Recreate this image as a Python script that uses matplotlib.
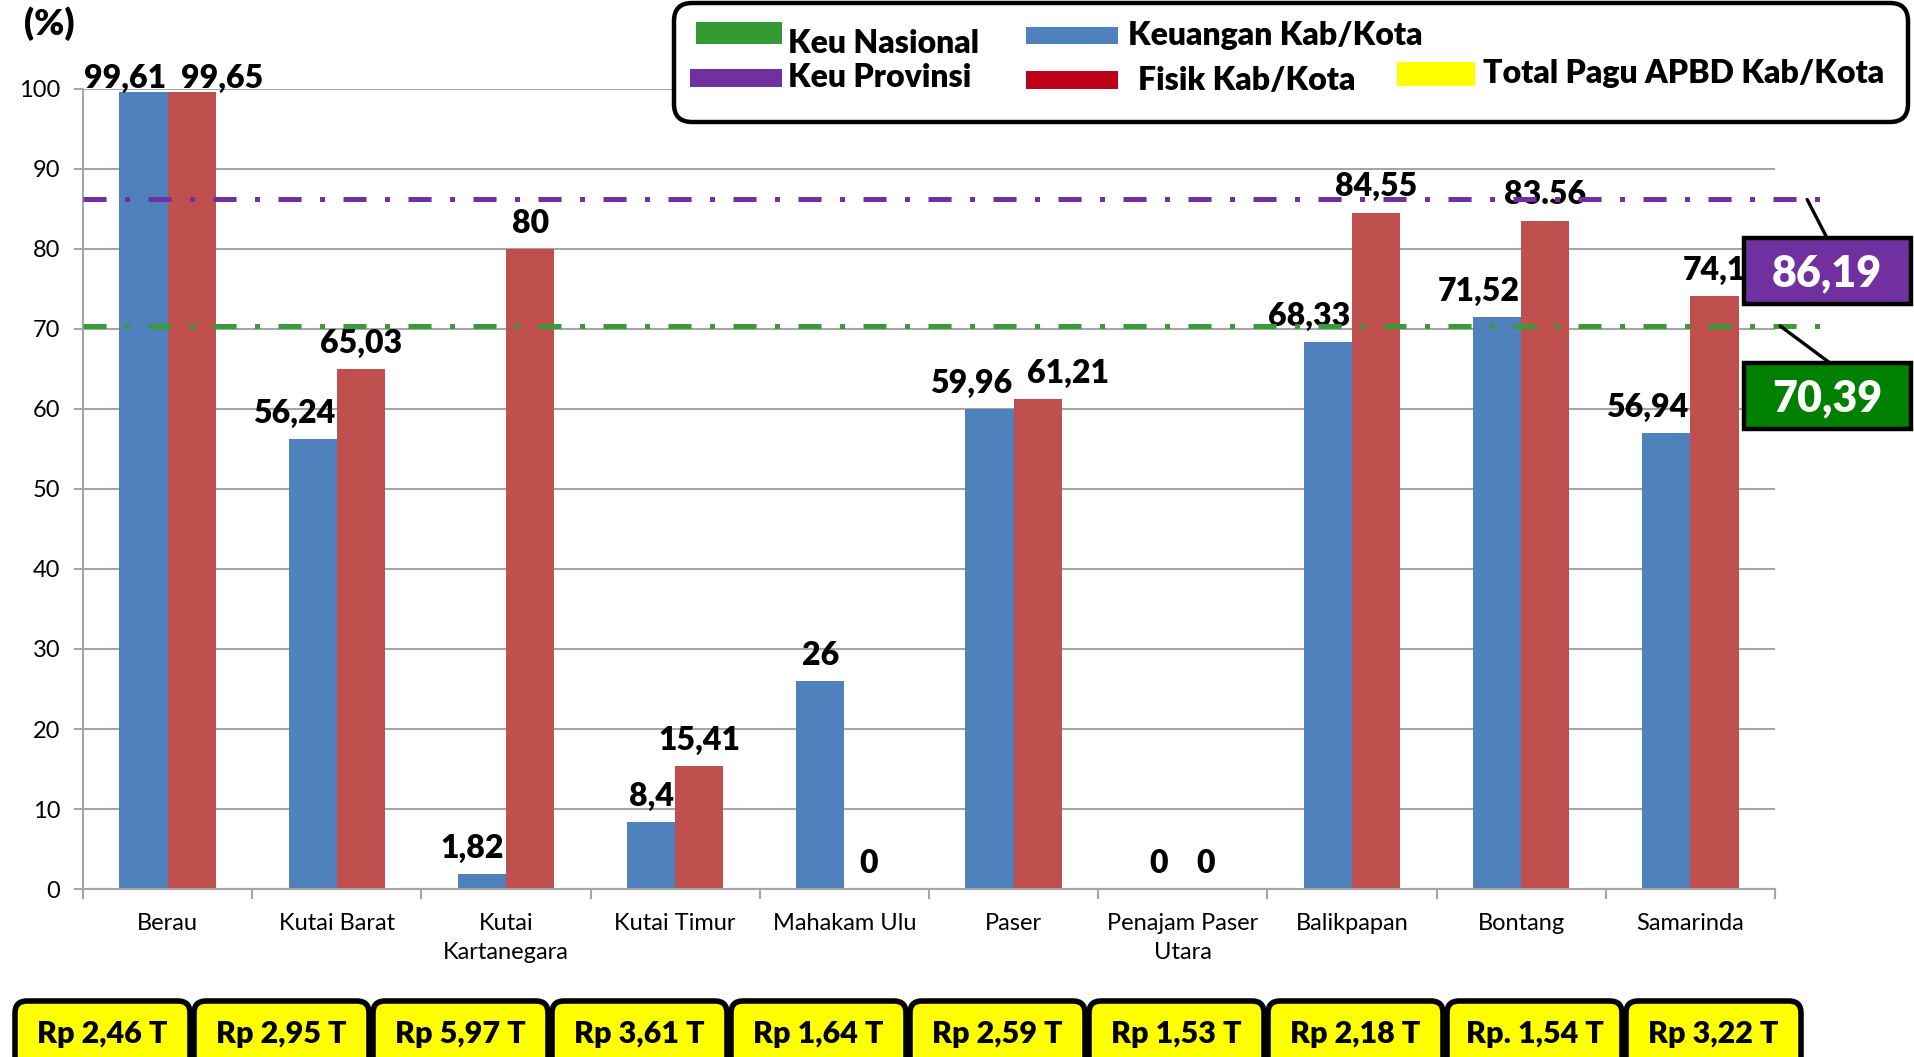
import matplotlib
matplotlib.use('Agg')
import matplotlib.pyplot as plt
from matplotlib.patches import FancyBboxPatch, Rectangle, ConnectionPatch
import numpy as np

plt.rcParams['font.family'] = ['Lato', 'DejaVu Sans']
plt.rcParams['lines.scale_dashes'] = False

# data
kabkota = ['Berau', 'Kutai Barat', 'Kutai\nKartanegara', 'Kutai Timur', 'Mahakam Ulu', 'Paser',
           'Penajam Paser\nUtara', 'Balikpapan', 'Bontang', 'Samarinda']
keuangan = [99.61, 56.24, 1.82, 8.4, 26, 59.96, 0, 68.33, 71.52, 56.94]
fisik = [99.65, 65.03, 80, 15.41, 0, 61.21, 0, 84.55, 83.56, 74.1]
keuangan_lbl = ['99,61', '56,24', '1,82', '8,4', '26', '59,96', '0', '68,33', '71,52', '56,94']
fisik_lbl = ['99,65', '65,03', '80', '15,41', '0', '61,21', '0', '84,55', '83.56', '74,1']
keu_nasional = 70.39
keu_provinsi = 86.19
pagu = ['Rp 2,46 T', 'Rp 2,95 T', 'Rp 5,97 T', 'Rp 3,61 T', 'Rp 1,64 T', 'Rp 2,59 T',
        'Rp 1,53 T', 'Rp 2,18 T', 'Rp. 1,54 T', 'Rp 3,22 T']
yticks = list(range(0, 101, 10))

BLUE = '#4F81BD'
RED = '#C0504D'
PURPLE = '#7030A0'
GREEN_LINE = '#3A9B3A'
GREEN_BOX = '#008000'
GRID = '#A6A6A6'
BOLD = 'heavy'


def fmt(v):
    return ('%g' % v).replace('.', ',')


W, H = 1915, 1057
fig = plt.figure(figsize=(W / 100, H / 100), dpi=100)
ax = fig.add_axes([83 / W, 1 - 889 / H, (1775 - 83) / W, 800 / H])

x = np.arange(len(kabkota))
bw = 0.285
ax.bar(x - bw / 2, keuangan, bw, color=BLUE, zorder=2)
ax.bar(x + bw / 2, fisik, bw, color=RED, zorder=2)

ax.set_xlim(-0.5, len(kabkota) - 0.5)
ax.set_ylim(0, 100)
ax.set_yticks(yticks)
ax.yaxis.grid(True, color=GRID, lw=1.5)
ax.set_axisbelow(True)
for s in ['top', 'right']:
    ax.spines[s].set_visible(False)
for s in ['left', 'bottom']:
    ax.spines[s].set_color(GRID)
    ax.spines[s].set_linewidth(1.5)

ax.set_xticks(np.arange(-0.5, len(kabkota)), labels=[])
ax.set_xticks(x, labels=kabkota, minor=True)
ax.tick_params(axis='x', which='major', length=7, width=1.5, color=GRID)
ax.tick_params(axis='x', which='minor', length=0, pad=17, labelsize=17)
for lab in ax.get_xticklabels(minor=True):
    lab.set_linespacing(1.5)
ax.tick_params(axis='y', length=6.5, width=1.5, color=GRID, pad=10, labelsize=17)

# bar labels (labels of near-full bars sit on the top gridline)
lbl = dict(fontsize=23, fontweight=BOLD, textcoords='offset points')


def bar_label(txt, xpos, val, ha):
    if val > 95:
        ax.annotate(txt, (xpos, 100), xytext=(0, 1), ha=ha, va='baseline', **lbl)
    else:
        ax.annotate(txt, (xpos, val), xytext=(0, 8), ha=ha, va='bottom', **lbl)


for i in range(len(kabkota)):
    b, r = keuangan[i], fisik[i]
    lb, lr = keuangan_lbl[i], fisik_lbl[i]
    if len(lb) > 2:
        bar_label(lb, i - 0.01, b, 'right')
    else:
        bar_label(lb, i - bw / 2, b, 'center')
    if abs(b - r) < 5:
        bar_label(lr, i + 0.08, r, 'left')
    else:
        bar_label(lr, i + bw / 2, r, 'center')

# reference lines
dash = (0, (16.6, 13.3, 3.6, 13.3))
for val, col in [(keu_provinsi, PURPLE), (keu_nasional, GREEN_LINE)]:
    ax.plot([-0.5, 9.77], [val, val], color=col, lw=3.6, linestyle=dash,
            dash_capstyle='butt', clip_on=False, zorder=4)

# overlay in pixel coordinates
ov = fig.add_axes([0, 0, 1, 1], zorder=5)
ov.set_xlim(0, W)
ov.set_ylim(H, 0)
ov.axis('off')

ov.text(49, 35, '(%)', ha='center', va='baseline', fontsize=26, fontweight=BOLD)

# value boxes on the right
for val, col, top, xa, xb in [(keu_provinsi, PURPLE, 238, 9.69, 1827),
                              (keu_nasional, GREEN_BOX, 363, 9.53, 1830)]:
    ov.add_patch(Rectangle((1744, top), 167, 66, fc=col, ec='black', lw=3.2))
    ov.text(1827, top + 35, fmt(val), color='white', fontsize=31, fontweight=BOLD,
            ha='center', va='center')
    fig.add_artist(ConnectionPatch(xyA=(xa, val), coordsA=ax.transData,
                                   xyB=(xb, top), coordsB=ov.transData,
                                   color='black', lw=2.4))

# legend
ov.add_patch(FancyBboxPatch((674, 3), 1234, 119, boxstyle='round,pad=0,rounding_size=18',
                            fc='white', ec='black', lw=3.2))
legend_items = [
    ('#339933', (696, 22, 86, 22), 'Keu Nasional', (788, 53)),
    (BLUE, (1026, 27, 92, 17), 'Keuangan Kab/Kota', (1128, 45)),
    (PURPLE, (690, 69, 92, 18), 'Keu Provinsi', (788, 87)),
    ('#C00018', (1026, 71, 92, 18), 'Fisik Kab/Kota', (1138, 90)),
    ('#FFFF00', (1397, 62, 78, 24), 'Total Pagu APBD Kab/Kota', (1483, 83)),
]
for col, (rx, ry, rw, rh), txt, (tx, ty) in legend_items:
    ov.add_patch(Rectangle((rx, ry), rw, rh, fc=col, ec='none'))
    ov.text(tx, ty, txt, fontsize=23, fontweight=BOLD, ha='left', va='baseline')

# total pagu boxes
for i, t in enumerate(pagu):
    left = 15 + i * 179
    ov.add_patch(FancyBboxPatch((left, 1001), 175, 90, boxstyle='round,pad=0,rounding_size=12',
                                fc='#FFFF00', ec='black', lw=4))
    ov.text(left + 87.5, 1043, t, fontsize=22, fontweight=BOLD, ha='center', va='baseline')

fig.savefig('out.png', dpi=100)
